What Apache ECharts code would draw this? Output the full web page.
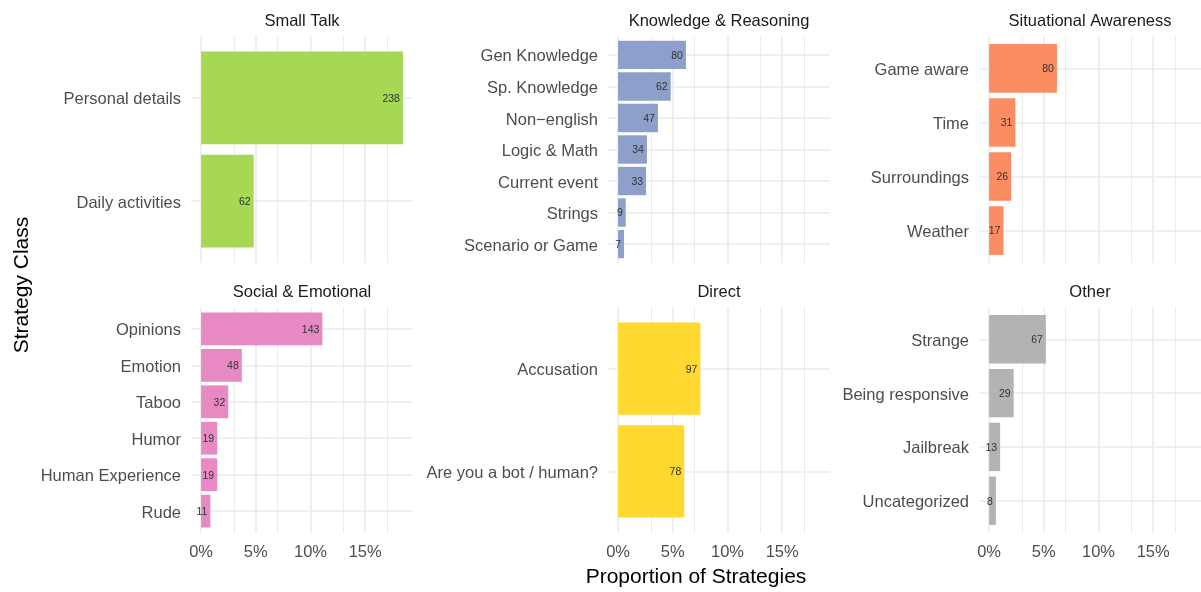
<!DOCTYPE html>
<html><head><meta charset="utf-8">
<script src="https://cdn.jsdelivr.net/npm/echarts@6/dist/echarts.min.js"></script>
<style>html,body{margin:0;padding:0;background:#fff}#c{width:1201px;height:592px}</style>
</head><body><div id="c"></div>
<script>
// ---- data ----
const panelTitles = ['Small Talk', 'Knowledge & Reasoning', 'Situational Awareness', 'Social & Emotional', 'Direct', 'Other'];
const smallTalkCats = ['Personal details', 'Daily activities'];
const smallTalkCounts = [238, 62];
const knowledgeCats = ['Gen Knowledge', 'Sp. Knowledge', 'Non\u2212english', 'Logic & Math', 'Current event', 'Strings', 'Scenario or Game'];
const knowledgeCounts = [80, 62, 47, 34, 33, 9, 7];
const situationalCats = ['Game aware', 'Time', 'Surroundings', 'Weather'];
const situationalCounts = [80, 31, 26, 17];
const socialCats = ['Opinions', 'Emotion', 'Taboo', 'Humor', 'Human Experience', 'Rude'];
const socialCounts = [143, 48, 32, 19, 19, 11];
const directCats = ['Accusation', 'Are you a bot / human?'];
const directCounts = [97, 78];
const otherCats = ['Strange', 'Being responsive', 'Jailbreak', 'Uncategorized'];
const otherCounts = [67, 29, 13, 8];
const xTickValues = [0, 0.05, 0.10, 0.15];
const xMinorValues = [0.025, 0.075, 0.125, 0.175];
const xTitle = 'Proportion of Strategies';
const yTitle = 'Strategy Class';

// ---- styling / layout ----
const colors = ['#A6D854', '#8DA0CB', '#FC8D62', '#E78AC3', '#FFD92F', '#B3B3B3'];
const FONT = 'Liberation Sans, Arial, Helvetica, sans-serif';
const colLeft = [191, 608, 979];
const panelW = 222;
const rowTop = [36, 307];
const panelH = [227, 226];

const panelCats = [smallTalkCats, knowledgeCats, situationalCats, socialCats, directCats, otherCats];
const panelCounts = [smallTalkCounts, knowledgeCounts, situationalCounts, socialCounts, directCounts, otherCounts];
const total = panelCounts.flat().reduce((a, b) => a + b, 0);
const maxP = Math.max(...panelCounts.flat()) / total;
const xMin = -0.05 * maxP, xMax = 1.05 * maxP;

const grid = [], xAxis = [], yAxis = [], series = [], graphic = [];
const gridLineColor = '#EBEBEB';

for (let i = 0; i < 6; i++) {
  const r = Math.floor(i / 3), c = i % 3;
  const L = colLeft[c], T = rowTop[r], H = panelH[r];
  const cats = panelCats[i], counts = panelCounts[i];
  const n = cats.length;
  const band = H / (n + 0.2);
  grid.push({ left: L, top: T, width: panelW, height: H });
  grid.push({ left: L, top: T + 0.1 * band, width: panelW, height: n * band });
  const bg = 2 * i, fg = 2 * i + 1;
  xAxis.push({
    gridIndex: bg, type: 'value', min: xMin, max: xMax,
    axisLine: { show: false }, axisTick: { show: false }, splitLine: { show: false },
    axisLabel: r === 1 ? {
      show: true, customValues: xTickValues, color: '#4D4D4D', fontSize: 16.5, fontFamily: FONT, margin: 11,
      formatter: v => Math.round(v * 100) + '%'
    } : { show: false }
  });
  xAxis.push({ gridIndex: fg, type: 'value', min: xMin, max: xMax, show: false });
  yAxis.push({ gridIndex: bg, type: 'value', min: 0, max: 1, show: false });
  yAxis.push({
    gridIndex: fg, type: 'category', inverse: true, data: cats,
    axisLine: { show: false }, axisTick: { show: false },
    axisLabel: {
      margin: 10,
      formatter: v => '{l|' + v + '}',
      rich: { l: { color: '#4D4D4D', fontSize: 16.5, fontFamily: FONT, padding: [4, 0, 0, 0] } }
    },
    splitLine: { show: true, alignWithLabel: true, lineStyle: { color: gridLineColor, width: 1.6 } }
  });
  series.push({
    type: 'scatter', xAxisIndex: bg, yAxisIndex: bg, data: [], silent: true, z: 0,
    markLine: {
      silent: true, symbol: ['none', 'none'], label: { show: false }, z: 1, animation: false,
      data: xTickValues.map(v => ({ xAxis: v, lineStyle: { color: gridLineColor, width: 1.6, type: 'solid' } }))
        .concat(xMinorValues.filter(v => v < xMax).map(v => ({ xAxis: v, lineStyle: { color: gridLineColor, width: 1.0, type: 'solid' } })))
    }
  });
  series.push({
    type: 'bar', xAxisIndex: fg, yAxisIndex: fg, z: 3,
    data: counts.map(v => v / total),
    barCategoryGap: '10%',
    itemStyle: { color: colors[i] },
    label: {
      show: true, position: 'insideRight', distance: 3,
      formatter: p => '{n|' + counts[p.dataIndex] + '}',
      rich: { n: { fontSize: 10.5, fontFamily: FONT, color: '#333333', padding: [2, 0, 0, 0] } }
    }
  });
  graphic.push({
    type: 'text', x: L + panelW / 2, y: T - 15, silent: true,
    style: { text: panelTitles[i], align: 'center', verticalAlign: 'middle', textAlign: 'center', textVerticalAlign: 'middle',
      fontSize: 16.5, fontFamily: FONT, fill: '#1A1A1A' }
  });
}
graphic.push({
  type: 'text', x: 696, y: 577, silent: true,
  style: { text: xTitle, align: 'center', verticalAlign: 'middle', textAlign: 'center', textVerticalAlign: 'middle',
    fontSize: 21, fontFamily: FONT, fill: '#000000' }
});
graphic.push({
  type: 'text', x: 22, y: 285, rotation: Math.PI / 2, silent: true,
  style: { text: yTitle, align: 'center', verticalAlign: 'middle', textAlign: 'center', textVerticalAlign: 'middle',
    fontSize: 21, fontFamily: FONT, fill: '#000000' }
});

const chart = echarts.init(document.getElementById('c'), null, { renderer: 'canvas' });
chart.setOption({
  animation: false,
  backgroundColor: '#ffffff',
  textStyle: { fontFamily: FONT },
  grid, xAxis, yAxis, series, graphic
});
</script></body></html>
